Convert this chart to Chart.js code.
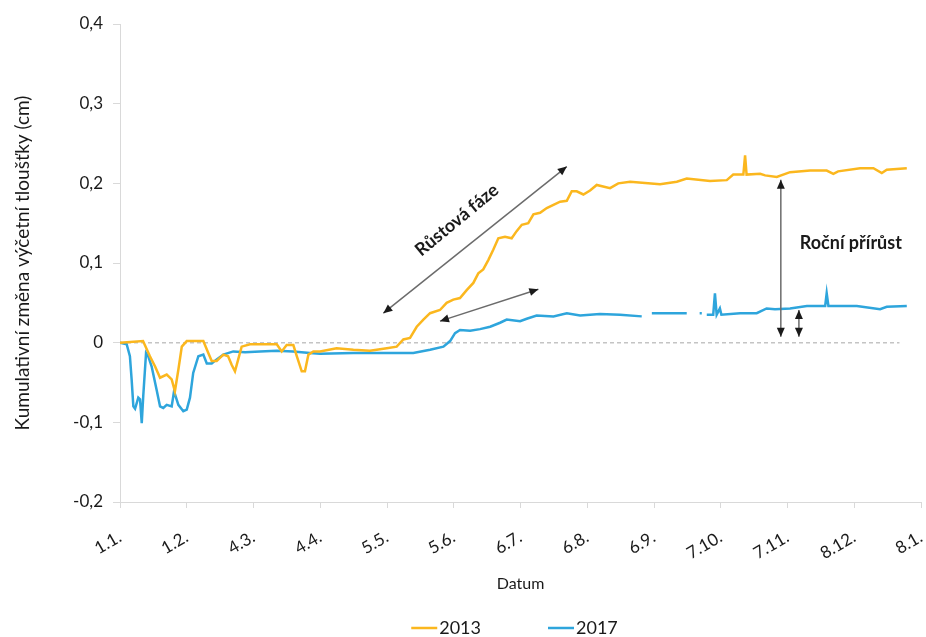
<!DOCTYPE html>
<html>
<head>
<meta charset="utf-8">
<script src="https://cdn.jsdelivr.net/npm/chart.js@4"></script>
<style>
  html, body { margin: 0; padding: 0; background: #fff; }
  #wrap { width: 926px; height: 637px; }
</style>
</head>
<body>
<div id="wrap"><canvas id="chart" width="926" height="637"></canvas></div>
<script>
// x axis: day of year, one label every 31 days
const dateLabels = ['1.1.', '1.2.', '4.3.', '4.4.', '5.5.', '5.6.', '6.7.', '6.8.', '6.9.', '7.10.', '7.11.', '8.12.', '8.1.'];
const yTicks = [-0.2, -0.1, 0, 0.1, 0.2, 0.3, 0.4];

// 2013 series (days / cm)
const days2013 = [0, 10.7, 13.9, 16.3, 18.6, 21.7, 24.0, 25.5, 27.1, 28.7, 31.0, 38.7, 41.0, 42.6, 44.9, 48.0, 50.2, 51.9, 53.4, 54.9,
  56.5, 60.4, 72.8, 75.1, 77.4, 80.5, 82.1, 84.4, 85.9, 87.5, 89.8, 92.9, 100.6, 108.4, 116.1, 123.9, 128.5, 131.6, 134.7, 137.8,
  140.9, 144.0, 148.6, 151.7, 154.8, 157.9, 161.0, 164.1, 166.4, 168.7, 171.1, 173.4, 175.7, 178.8, 181.9, 184.2, 186.6, 189.6, 192.0, 195.1,
  198.2, 201.3, 204.4, 207.5, 209.8, 212.1, 215.2, 218.3, 221.4, 227.6, 231.4, 236.9, 250.8, 258.6, 263.2, 274.0, 281.8, 284.8, 289.5, 290.3,
  291.0, 297.3, 299.6, 305.0, 311.2, 320.5, 328.2, 331.3, 333.5, 343.7, 349.9, 353.8, 356.1, 365.4];
const vals2013 = [0, 0.002, -0.017, -0.030, -0.044, -0.040, -0.046, -0.061, -0.034, -0.005, 0.002, 0.002, -0.013, -0.023, -0.023, -0.015, -0.017, -0.028, -0.036, -0.021,
  -0.005, -0.002, -0.002, -0.011, -0.003, -0.003, -0.017, -0.036, -0.036, -0.015, -0.011, -0.011, -0.007, -0.009, -0.010, -0.007, -0.005, 0.004, 0.006, 0.020,
  0.029, 0.037, 0.041, 0.050, 0.054, 0.056, 0.066, 0.075, 0.087, 0.092, 0.104, 0.117, 0.131, 0.133, 0.131, 0.140, 0.148, 0.150, 0.161, 0.163,
  0.169, 0.173, 0.177, 0.178, 0.190, 0.190, 0.186, 0.191, 0.198, 0.194, 0.200, 0.202, 0.199, 0.202, 0.206, 0.203, 0.204, 0.211, 0.211, 0.235,
  0.211, 0.212, 0.210, 0.208, 0.214, 0.216, 0.216, 0.212, 0.215, 0.219, 0.219, 0.213, 0.217, 0.219];

// 2017 series, null = missing record
const days2017 = [0, 3.1, 4.6, 5.4, 6.2, 7.0, 8.5, 9.3, 10.1, 10.8, 12.1, 13.1, 14.7, 17.0, 18.6, 20.1, 21.7, 24.0, 25.1, 27.1,
  29.4, 31.0, 32.5, 34.0, 36.4, 38.7, 40.3, 42.6, 44.9, 48.0, 52.6, 58.1, 65.0, 72.8, 80.4, 88.2, 92.9, 108.4, 123.9, 136.2,
  144.0, 150.2, 153.3, 155.6, 157.9, 162.6, 167.2, 171.9, 176.5, 179.6, 185.8, 188.9, 193.5, 201.3, 207.5, 213.7, 222.9, 232.2, 242.3, 244.5,
  247.0, 263.2, 266.0, 269.2, 270.2, 271.5, 272.5, 275.5, 276.3, 277.1, 278.6, 279.3, 288.0, 295.7, 300.3, 304.2, 311.2, 319.0, 327.5, 328.2,
  329.0, 342.2, 353.0, 356.1, 365.4];
const vals2017 = [0, -0.002, -0.017, -0.046, -0.080, -0.083, -0.069, -0.071, -0.101, -0.067, -0.013, -0.017, -0.030, -0.059, -0.080, -0.082, -0.078, -0.080, -0.061, -0.078,
  -0.086, -0.084, -0.069, -0.038, -0.017, -0.015, -0.026, -0.026, -0.021, -0.015, -0.011, -0.012, -0.011, -0.010, -0.011, -0.013, -0.014, -0.013, -0.013, -0.013,
  -0.009, -0.005, 0.002, 0.012, 0.016, 0.015, 0.017, 0.020, 0.025, 0.029, 0.027, 0.030, 0.034, 0.033, 0.037, 0.034, 0.036, 0.035, 0.033, null,
  0.037, 0.037, null, 0.037, 0.037, null, 0.035, 0.035, 0.062, 0.035, 0.043, 0.035, 0.037, 0.037, 0.043, 0.042, 0.043, 0.046, 0.046, 0.062,
  0.046, 0.046, 0.042, 0.045, 0.046];

// dashed reference line at zero
const zeroDays = [0, 362];
const zeroVals = [0, 0];

const orange = '#FBB71E';
const blue = '#2EA5DC';
const textColor = '#1a1a1a';

function toPoints(xs, ys) {
  return xs.map((x, i) => ({ x: x, y: ys[i] }));
}

function fmt(v) {
  if (Math.abs(v) < 1e-9) return '0';
  return v.toFixed(1).replace('.', ',');
}

// arrows and notes, given in data units
const notes = {
  growthArrow: [[122.3, 0.037], [207.5, 0.221]],
  growthArrow2: [[148.6, 0.027], [194.3, 0.067]],
  incArrow2013: [[306.9, 0.2045], [306.9, 0.0075]],
  incArrow2017: [[315.3, 0.041], [315.3, 0.0075]],
  growthText: { x: 156.5, y: 0.154, text: 'Růstová fáze' },
  incText: { x: 315.7, y: 0.125, text: 'Roční přírůst' }
};

function drawHead(ctx, x, y, ang) {
  const len = 9, half = 4;
  ctx.save();
  ctx.translate(x, y);
  ctx.rotate(ang);
  ctx.beginPath();
  ctx.moveTo(0, 0);
  ctx.lineTo(-len, -half);
  ctx.lineTo(-len, half);
  ctx.closePath();
  ctx.fillStyle = '#1a1a1a';
  ctx.fill();
  ctx.restore();
}

function drawArrow(ctx, xs, ys, pts) {
  const x1 = xs.getPixelForValue(pts[0][0]), y1 = ys.getPixelForValue(pts[0][1]);
  const x2 = xs.getPixelForValue(pts[1][0]), y2 = ys.getPixelForValue(pts[1][1]);
  ctx.save();
  ctx.strokeStyle = '#6b6b6b';
  ctx.lineWidth = 1.5;
  ctx.beginPath();
  ctx.moveTo(x1, y1);
  ctx.lineTo(x2, y2);
  ctx.stroke();
  ctx.restore();
  const ang = Math.atan2(y2 - y1, x2 - x1);
  drawHead(ctx, x2, y2, ang);
  drawHead(ctx, x1, y1, ang + Math.PI);
}

const notesPlugin = {
  id: 'notes',
  afterDatasetsDraw(chart) {
    const ctx = chart.ctx;
    const xs = chart.scales.x, ys = chart.scales.y;
    drawArrow(ctx, xs, ys, notes.growthArrow);
    drawArrow(ctx, xs, ys, notes.growthArrow2);
    drawArrow(ctx, xs, ys, notes.incArrow2013);
    drawArrow(ctx, xs, ys, notes.incArrow2017);

    ctx.save();
    ctx.fillStyle = textColor;
    ctx.font = 'bold 18px Lato';
    ctx.textBaseline = 'middle';
    ctx.textAlign = 'center';
    ctx.translate(xs.getPixelForValue(notes.growthText.x), ys.getPixelForValue(notes.growthText.y));
    ctx.rotate(-39.5 * Math.PI / 180);
    ctx.fillText(notes.growthText.text, 0, 0);
    ctx.restore();

    ctx.save();
    ctx.fillStyle = textColor;
    ctx.font = 'bold 18px Lato';
    ctx.textBaseline = 'middle';
    ctx.textAlign = 'left';
    ctx.fillText(notes.incText.text, xs.getPixelForValue(notes.incText.x), ys.getPixelForValue(notes.incText.y));
    ctx.restore();
  }
};

// legend drawn by hand: short line + label, items spaced like the original
const legendPlugin = {
  id: 'bottomLegend',
  afterDraw(chart) {
    const ctx = chart.ctx;
    const area = chart.chartArea;
    const items = chart.data.datasets.filter((d) => d.label !== 'zero');
    const lineLen = 26, gap = 2, spacing = 67;
    ctx.save();
    ctx.font = '18px Lato';
    ctx.textBaseline = 'middle';
    const widths = items.map((d) => lineLen + gap + ctx.measureText(d.label).width);
    const total = widths.reduce((a, b) => a + b, 0) + spacing * (items.length - 1);
    let x = (area.left + area.right) / 2 - 6 - total / 2;
    const y = 628;
    items.forEach((d, i) => {
      ctx.strokeStyle = d.borderColor;
      ctx.lineWidth = 2.5;
      ctx.beginPath();
      ctx.moveTo(x, y);
      ctx.lineTo(x + lineLen, y);
      ctx.stroke();
      ctx.fillStyle = textColor;
      ctx.fillText(d.label, x + lineLen + gap, y);
      x += widths[i] + spacing;
    });
    ctx.restore();
  }
};

Chart.defaults.font.family = 'Lato';
Chart.defaults.color = textColor;

var myChart = new Chart(document.getElementById('chart'), {
  type: 'line',
  data: {
    datasets: [
      {
        label: '2013',
        data: toPoints(days2013, vals2013),
        borderColor: orange,
        borderWidth: 2.5,
        pointRadius: 0,
        tension: 0
      },
      {
        label: '2017',
        data: toPoints(days2017, vals2017),
        borderColor: blue,
        borderWidth: 2.5,
        pointRadius: 0,
        spanGaps: false,
        tension: 0
      },
      {
        label: 'zero',
        data: toPoints(zeroDays, zeroVals),
        borderColor: '#c4c4c4',
        borderWidth: 1.5,
        borderDash: [4, 3],
        pointRadius: 0
      }
    ]
  },
  options: {
    responsive: false,
    animation: false,
    layout: { padding: { left: 0, right: 5, top: 24, bottom: 35 } },
    plugins: {
      legend: { display: false },
      tooltip: { enabled: false }
    },
    scales: {
      x: {
        type: 'linear',
        min: 0,
        max: 372,
        afterBuildTicks: (scale) => { scale.ticks = dateLabels.map((l, i) => ({ value: i * 31 })); },
        afterFit: (scale) => {
          scale.height = 100;
          scale.paddingLeft = 0;
          scale.paddingRight = 0;
        },
        ticks: {
          autoSkip: false,
          maxRotation: 30,
          minRotation: 30,
          padding: 19,
          font: { size: 17 },
          callback: (v) => dateLabels[Math.round(v / 31)]
        },
        grid: { drawOnChartArea: false, tickLength: 6, color: '#d9d9d9' },
        border: { color: '#d9d9d9' },
        title: { display: true, text: 'Datum', font: { size: 16 }, padding: { top: 0, bottom: 9 } }
      },
      y: {
        min: -0.2,
        max: 0.4,
        afterBuildTicks: (scale) => { scale.ticks = yTicks.map((v) => ({ value: v })); },
        afterFit: (scale) => { scale.width = 120; },
        ticks: {
          padding: 10,
          font: { size: 17 },
          callback: (v) => fmt(v)
        },
        grid: { drawOnChartArea: false, tickLength: 7, color: '#d9d9d9' },
        border: { color: '#d9d9d9' },
        title: {
          display: true,
          text: 'Kumulativní změna výčetní tloušťky (cm)',
          font: { size: 19 },
          padding: { top: 11, bottom: 0 }
        }
      }
    }
  },
  plugins: [notesPlugin, legendPlugin]
});
</script>
</body>
</html>
